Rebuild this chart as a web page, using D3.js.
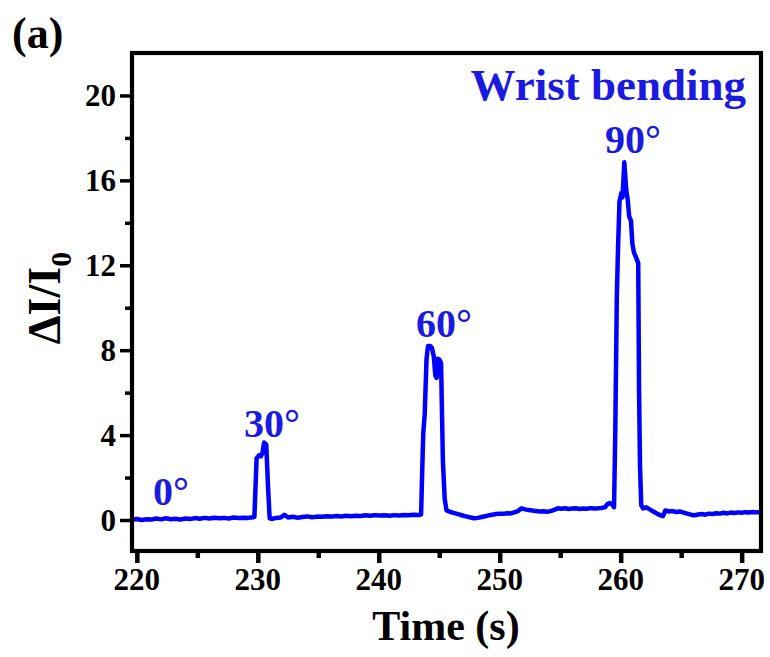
<!DOCTYPE html>
<html><head><meta charset="utf-8">
<script src="https://cdn.jsdelivr.net/npm/d3@7"></script>
<style>body{margin:0;background:#fff}svg{display:block}</style>
</head><body>
<svg id="c" width="770" height="657"></svg>
<script>
const time = [219.6,220.0,220.4,220.8,221.2,221.6,222.0,222.4,222.8,223.2,223.6,224.0,224.4,224.8,225.2,225.6,226.0,226.4,226.8,227.2,227.6,228.0,228.4,228.8,229.2,229.6,
229.72,229.9,230.1,230.25,230.38,230.52,230.7,230.85,230.98,231.2,
231.5,231.9,232.2,232.5,232.9,233.3,233.7,234.1,234.5,234.9,235.3,235.7,236.1,236.5,236.9,237.3,237.7,238.1,238.5,238.9,239.3,239.7,240.1,240.5,240.9,241.3,241.7,242.1,242.5,242.9,243.3,243.5,
243.6,243.68,243.8,243.95,244.07,244.25,244.4,244.55,244.68,244.78,244.88,245.0,245.15,245.3,245.45,245.6,245.85,
246.1,246.4,246.7,247.0,247.3,247.6,247.9,248.2,248.5,248.8,249.1,249.4,249.7,250.0,250.3,250.6,250.9,251.2,251.5,251.8,252.1,252.4,252.7,253.0,253.3,253.6,253.9,254.2,254.5,254.8,255.1,255.4,255.7,256.0,256.3,256.6,256.9,257.2,257.5,257.8,258.1,258.4,258.7,258.9,259.1,259.3,259.45,
259.55,259.68,259.78,259.9,260.05,260.15,260.3,260.45,260.58,260.7,260.85,260.97,261.1,261.25,261.45,261.52,261.6,261.7,261.85,
262.1,262.4,262.7,263.0,263.3,263.5,263.7,264.0,264.3,264.6,264.9,265.2,265.5,265.8,266.1,266.4,266.7,267.0,267.3,267.6,267.9,268.2,268.5,268.8,269.1,269.4,269.7,270.0,270.3,270.6,270.9,271.2,271.5];
const dI = [0.02,0.05,0.0,0.04,0.02,0.07,0.03,0.08,0.04,0.06,0.02,0.07,0.05,0.09,0.06,0.1,0.07,0.11,0.08,0.1,0.07,0.12,0.09,0.11,0.1,0.13,
0.15,2.9,3.05,3.0,3.15,3.65,3.55,1.5,0.08,0.05,
0.1,0.12,0.25,0.12,0.15,0.11,0.14,0.17,0.13,0.16,0.15,0.18,0.16,0.19,0.17,0.2,0.18,0.2,0.19,0.22,0.2,0.23,0.21,0.22,0.2,0.23,0.21,0.24,0.22,0.25,0.24,0.26,
2.5,4.1,5.0,7.6,8.2,8.2,8.1,7.7,6.8,6.7,7.6,7.55,7.4,2.8,1.0,0.45,0.4,
0.35,0.3,0.25,0.2,0.16,0.12,0.08,0.1,0.14,0.18,0.22,0.25,0.28,0.3,0.29,0.32,0.31,0.36,0.42,0.55,0.5,0.47,0.45,0.42,0.4,0.41,0.39,0.42,0.48,0.55,0.53,0.55,0.52,0.54,0.55,0.52,0.54,0.53,0.56,0.54,0.55,0.57,0.6,0.75,0.8,0.72,0.6,
4.0,10.5,12.8,15.0,15.4,15.2,16.85,15.6,15.1,14.3,14.1,13.0,12.6,12.4,12.1,6.0,2.5,0.7,0.55,
0.6,0.5,0.4,0.3,0.22,0.18,0.45,0.4,0.42,0.38,0.4,0.35,0.3,0.25,0.22,0.26,0.28,0.25,0.3,0.28,0.32,0.3,0.34,0.31,0.35,0.33,0.36,0.34,0.37,0.35,0.38,0.36,0.37];
const xTicks = [220,230,240,250,260,270];
const xMinor = [225,235,245,255,265];
const yTicks = [0,4,8,12,16,20];
const yMinor = [2,6,10,14,18];
const annotations = ["0°","30°","60°","90°"];
const annotAt = [[222.8,0],[230.4,3.65],[244.4,8.2],[260.3,16.85]];

const svg = d3.select("#c");
const L=132,R=761,T=53,B=551;
const x = d3.scaleLinear().domain([219.6,271.6]).range([L,R]);
const y = d3.scaleLinear().domain([-1.46,22]).range([B,T]);
const blue="#0000ff", tblue="#1a1ae0";
const font="'Liberation Serif','Times New Roman',serif";
const SX=1.0;

function stext(g,str,px,py,size,anchor,color){
  return g.append("text").attr("transform",`translate(${px},${py}) scale(${SX},1)`)
    .attr("text-anchor",anchor).attr("font-family",font).attr("font-weight","bold")
    .attr("font-size",size).attr("fill",color||"#000").text(str);
}

// data line
const line = d3.line().x((d,i)=>x(time[i])).y((d,i)=>y(dI[i]));
svg.append("path").datum(dI).attr("d",line).attr("fill","none")
  .attr("stroke",blue).attr("stroke-width",4.5).attr("stroke-linejoin","round");

// axes
const gx = svg.append("g").attr("transform",`translate(0,${B})`)
  .call(d3.axisBottom(x).tickValues(xTicks).tickSize(12).tickFormat(""));
const gxm = svg.append("g").attr("transform",`translate(0,${B})`)
  .call(d3.axisBottom(x).tickValues(xMinor).tickSize(7).tickFormat(""));
const gy = svg.append("g").attr("transform",`translate(${L},0)`)
  .call(d3.axisLeft(y).tickValues(yTicks).tickSize(12).tickFormat(""));
const gym = svg.append("g").attr("transform",`translate(${L},0)`)
  .call(d3.axisLeft(y).tickValues(yMinor).tickSize(7).tickFormat(""));
[gx,gxm,gy,gym].forEach(g=>{g.select(".domain").remove();g.selectAll("line").attr("stroke","#000").attr("stroke-width",4.5);});
gy.selectAll("line").attr("stroke-width",3.5); gym.selectAll("line").attr("stroke-width",3.5);

// frame
svg.append("rect").attr("x",L).attr("y",T).attr("width",R-L).attr("height",B-T)
  .attr("fill","none").attr("stroke","#000").attr("stroke-width",4.2);

// tick labels
xTicks.forEach(v=>stext(svg,String(v),x(v),590,31,"middle"));
yTicks.forEach(v=>stext(svg,String(v),116,y(v)+10.5,31,"end"));

// axis titles
stext(svg,"Time (s)",446,640,42,"middle");
const yt = svg.append("text").attr("transform",`translate(60,298) rotate(-90)`)
  .attr("text-anchor","middle").attr("font-family",font).attr("font-weight","bold").attr("font-size",46);
yt.append("tspan").text("ΔI/I");
yt.append("tspan").attr("font-size",30).attr("dy",11).text("0");

// panel label
stext(svg,"(a)",12,48,44,"start");
stext(svg,"Wrist bending",746,100,45,"end",tblue);

// peak labels
const annOff=[[171-x(222.8),505-y(0)],[272-x(230.4),437-y(3.65)],[444-x(244.4),337-y(8.2)],[633-x(260.3),153-y(16.85)]];
annotations.forEach((s,i)=>stext(svg,s,x(annotAt[i][0])+annOff[i][0],y(annotAt[i][1])+annOff[i][1],40,"middle",tblue));
</script>
</body></html>
